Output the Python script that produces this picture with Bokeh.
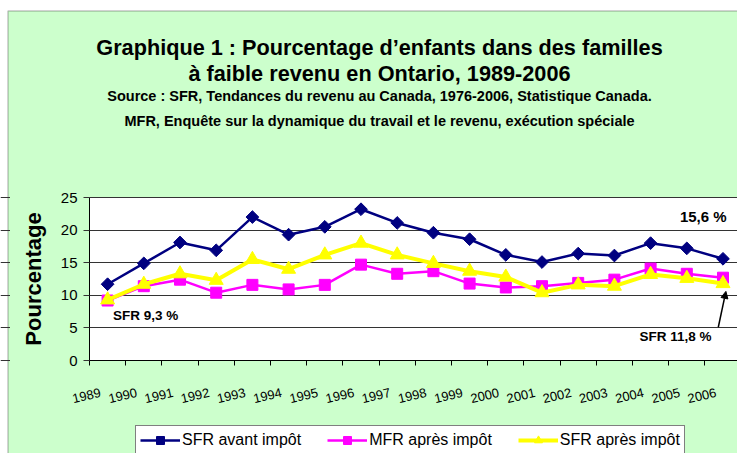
from bokeh.plotting import figure
from bokeh.models import (Range1d, FixedTicker, Label, LabelSet, ColumnDataSource,
                          Legend, LegendItem, Arrow, NormalHead, BoxAnnotation)
from bokeh.core.properties import value
from bokeh.embed import file_html
from bokeh.resources import INLINE

# ---------------- data ----------------
years = ["1989", "1990", "1991", "1992", "1993", "1994", "1995", "1996", "1997",
         "1998", "1999", "2000", "2001", "2002", "2003", "2004", "2005", "2006"]
sfr_avant = [11.7, 14.9, 18.1, 16.9, 22.0, 19.3, 20.5, 23.2, 21.1,
             19.6, 18.6, 16.2, 15.1, 16.4, 16.1, 18.0, 17.2, 15.6]
mfr_apres = [9.2, 11.4, 12.4, 10.4, 11.6, 10.9, 11.6, 14.7, 13.3,
             13.7, 11.8, 11.2, 11.4, 11.9, 12.4, 14.1, 13.3, 12.7]
sfr_apres = [9.3, 11.7, 13.3, 12.3, 15.5, 14.0, 16.2, 18.0, 16.2,
             14.9, 13.7, 12.8, 10.4, 11.6, 11.4, 13.2, 12.6, 11.8]
y_ticks = [0, 5, 10, 15, 20, 25]
series_names = ["SFR avant impôt", "MFR après impôt", "SFR après impôt"]
title_lines = ["Graphique 1 : Pourcentage d’enfants dans des familles",
               "à faible revenu en Ontario, 1989-2006"]
source_lines = ["Source : SFR, Tendances du revenu au Canada, 1976-2006, Statistique Canada.",
                "MFR, Enquête sur la dynamique du travail et le revenu, exécution spéciale"]

NAVY = "#000080"
MAGENTA = "#FF00FF"
YELLOW = "#FFFF00"
GREEN = "#CCFFCC"
FONT = "Liberation Sans"

# ---------------- layout helpers (page pixels -> data) ----------------
ORIGIN = 0           # page offset of the canvas
W, H = 737, 453
X0, Y0 = 89.0, 360.0  # page position of the plot-area origin
PX_X, PX_Y = 36.2, 6.52


def px2x(page_x):
    return (page_x - X0) / PX_X


def px2y(page_y):
    return (Y0 - page_y) / PX_Y


n = len(years)
x_start, x_end = px2x(ORIGIN), px2x(ORIGIN + W)
y_start, y_end = px2y(ORIGIN + H), px2y(ORIGIN)

p = figure(width=W, height=H, output_backend="svg", toolbar_location=None,
           x_range=Range1d(x_start, x_end), y_range=Range1d(y_start, y_end),
           min_border=0)
p.border_fill_color = "white"
p.background_fill_color = "white"
p.outline_line_color = None

# green chart area with its dark border (page white above / left of it)
p.add_layout(BoxAnnotation(left=px2x(7.5), right=px2x(W + 3), top=px2y(10.5),
                           bottom=px2y(H + 3), fill_color=GREEN, fill_alpha=1,
                           line_color="#3a3a3a", line_width=1.5, level="image"))

# white plot area
p.add_layout(BoxAnnotation(left=0, right=px2x(W + 3), bottom=y_ticks[0],
                           top=y_ticks[-1], fill_color="white", fill_alpha=1,
                           line_color=None, level="image"))

# y axis
p.yaxis.fixed_location = 0
p.yaxis.bounds = (y_ticks[0], y_ticks[-1])
p.yaxis.ticker = FixedTicker(ticks=y_ticks)
p.yaxis.axis_label = "Pourcentage"
p.yaxis.axis_label_text_font = FONT
p.yaxis.axis_label_text_font_style = "bold"
p.yaxis.axis_label_text_font_size = "22px"
p.yaxis.axis_label_text_color = "black"
p.yaxis.axis_label_standoff = 12
p.yaxis.major_label_text_font = FONT
p.yaxis.major_label_text_font_size = "15px"
p.yaxis.major_label_text_color = "black"
p.yaxis.major_label_standoff = 6
p.yaxis.major_tick_out = 6
p.yaxis.major_tick_in = 0
p.yaxis.minor_tick_line_color = None
p.yaxis.axis_line_color = "black"
p.yaxis.major_tick_line_color = "#333333"

# x axis: ticks at category boundaries, labels drawn separately (tilted)
p.xaxis.fixed_location = 0
p.xaxis.bounds = (0, x_end)
p.xaxis.ticker = FixedTicker(ticks=list(range(n)))
p.xaxis.major_label_overrides = {i: "" for i in range(n)}
p.xaxis.major_label_text_font_size = "1px"
p.xaxis.major_tick_out = 5
p.xaxis.major_tick_in = 0
p.xaxis.minor_tick_line_color = None
p.xaxis.axis_line_color = "black"
p.xaxis.major_tick_line_color = "black"

p.xgrid.visible = False
p.ygrid.grid_line_color = "#333333"
p.ygrid.grid_line_width = 1
# keep grid lines inside the plot area only
p.add_layout(BoxAnnotation(left=px2x(9.5), right=0, bottom=y_ticks[0] - 1,
                           top=y_ticks[-1] + 1, fill_color=GREEN, fill_alpha=1,
                           line_color=None, level="underlay"))

xs = [i + 0.5 for i in range(n)]
src = ColumnDataSource(dict(x=xs, a=sfr_avant, m=mfr_apres, s=sfr_apres))

l1 = p.line("x", "a", source=src, line_color=NAVY, line_width=2.5)
m1 = p.scatter("x", "a", source=src, marker="square", angle=0.785398, size=9,
               fill_color=NAVY, line_color=NAVY)
l2 = p.line("x", "m", source=src, line_color=MAGENTA, line_width=2.5)
m2 = p.scatter("x", "m", source=src, marker="square", size=11,
               fill_color=MAGENTA, line_color=MAGENTA)
l3 = p.line("x", "s", source=src, line_color=YELLOW, line_width=4)
m3 = p.scatter("x", "s", source=src, marker="triangle", size=14,
               fill_color=YELLOW, line_color=YELLOW)

# tilted year labels
ysrc = ColumnDataSource(dict(x=list(range(n)), y=[px2y(395)] * n, t=years))
p.add_layout(LabelSet(x="x", y="y", text="t", source=ysrc, angle=0.23,
                      text_align="center", text_baseline="middle", x_offset=-3,
                      text_font=value(FONT), text_font_size="13px",
                      text_color="black"))

# titles
cx = px2x(379)
for t, py in zip(title_lines, [46.7, 73.3]):
    p.add_layout(Label(x=cx, y=px2y(py), text=t, text_align="center",
                       text_baseline="alphabetic", text_font=FONT,
                       text_font_style="bold", text_font_size="21.7px",
                       text_color="black"))
for t, py in zip(source_lines, [95.0, 120.7]):
    p.add_layout(Label(x=cx, y=px2y(py), text=t, text_align="center",
                       text_baseline="alphabetic", text_font=FONT,
                       text_font_style="bold", text_font_size="14.5px",
                       text_color="black"))

# annotations
p.add_layout(Label(x=xs[0] + 0.15, y=sfr_apres[0] - 2.4, text="SFR 9,3 %",
                   text_align="left", text_baseline="middle", text_font=FONT,
                   text_font_style="bold", text_font_size="13.5px", text_color="black"))
p.add_layout(Label(x=xs[-1] + 0.1, y=sfr_avant[-1] + 6.5, text="15,6 %",
                   text_align="right", text_baseline="middle", text_font=FONT,
                   text_font_style="bold", text_font_size="15px", text_color="black"))
p.add_layout(Label(x=xs[-1] - 0.32, y=sfr_apres[-1] - 8.1, text="SFR 11,8 %",
                   text_align="right", text_baseline="middle", text_font=FONT,
                   text_font_style="bold", text_font_size="13.5px", text_color="black"))
p.add_layout(Arrow(end=NormalHead(size=7, fill_color="black", line_color="black"),
                   x_start=xs[-1] - 0.13, y_start=sfr_apres[-1] - 6.7,
                   x_end=xs[-1] + 0.08, y_end=sfr_apres[-1] - 1.2,
                   line_color="black", line_width=1.5))

legend = Legend(items=[LegendItem(label=series_names[0], renderers=[l1, m1]),
                       LegendItem(label=series_names[1], renderers=[l2, m2]),
                       LegendItem(label=series_names[2], renderers=[l3, m3])],
                orientation="horizontal", location=(135 - ORIGIN, -2), padding=4,
                spacing=26, glyph_width=40, glyph_height=20, label_standoff=2,
                margin=0, label_text_font=FONT, label_text_font_size="16px",
                label_text_color="black", border_line_color="black",
                border_line_width=1, background_fill_color="white",
                background_fill_alpha=1)
p.add_layout(legend)

open("out.html", "w").write(file_html(p, INLINE))
